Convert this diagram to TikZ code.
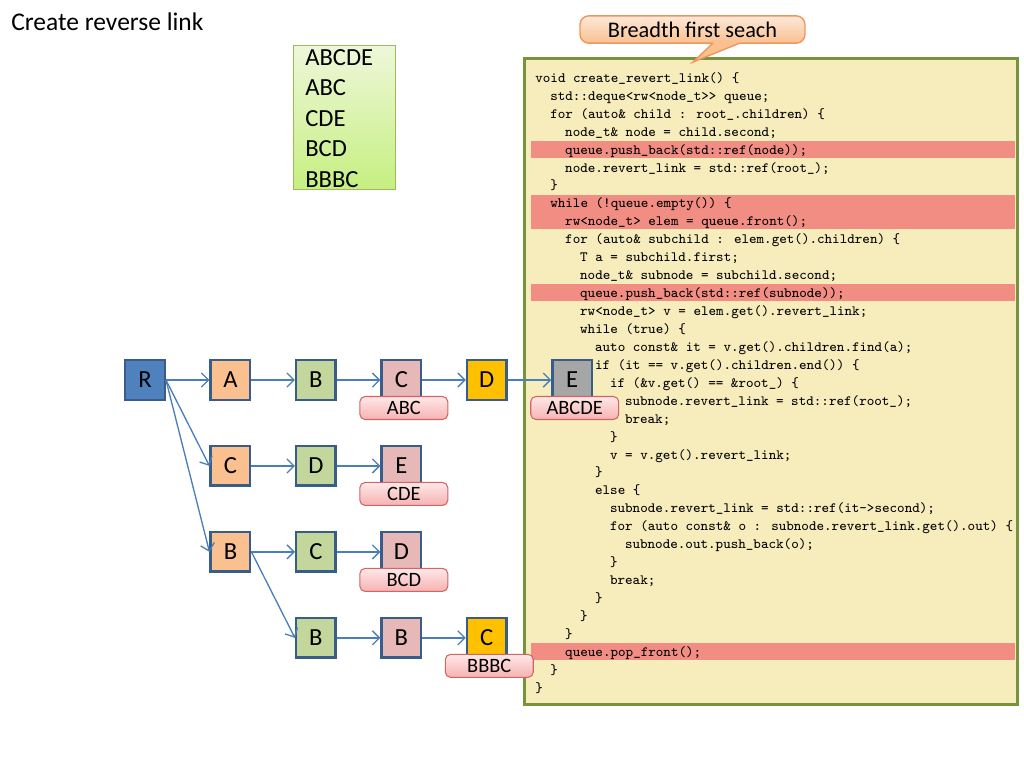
\documentclass[tikz,border=0pt]{standalone}
\usepackage{fontspec}
\setmainfont{Carlito}
\usepackage{tikz}
\usetikzlibrary{positioning,arrows.meta}
\definecolor{nodeblue}{RGB}{79,129,189}
\definecolor{nodeborder}{RGB}{56,93,138}
\definecolor{nodeorange}{RGB}{250,192,144}
\definecolor{nodegreen}{RGB}{195,214,155}
\definecolor{nodepink}{RGB}{230,185,184}
\definecolor{nodegold}{RGB}{255,192,0}
\definecolor{nodegray}{RGB}{166,166,166}
\definecolor{linkblue}{RGB}{74,126,187}
\definecolor{codefill}{RGB}{246,236,188}
\definecolor{codeborder}{RGB}{119,147,60}
\definecolor{hlred}{RGB}{242,141,131}
\definecolor{tagtop}{RGB}{255,232,232}
\definecolor{tagbottom}{RGB}{246,178,178}
\definecolor{tagborder}{RGB}{210,100,100}
\definecolor{listtop}{RGB}{238,247,218}
\definecolor{listbottom}{RGB}{198,239,128}
\definecolor{listborder}{RGB}{155,187,89}
\definecolor{callouttop}{RGB}{253,233,217}
\definecolor{calloutbottom}{RGB}{250,192,144}
\definecolor{calloutborder}{RGB}{240,150,90}
\newcommand{\codeind}[1]{\hspace*{#1\dimexpr 0.525em\relax}}

\begin{document}
\begin{tikzpicture}[x=0.02cm,y=-0.02cm,
  cell/.style={draw=nodeborder, line width=1.4pt, minimum size=0.79cm, inner sep=0pt, font=\fontsize{14}{16}\selectfont},
  rootbox/.style={cell, fill=nodeblue},
  orangebox/.style={cell, fill=nodeorange},
  greenbox/.style={cell, fill=nodegreen},
  pinkbox/.style={cell, fill=nodepink},
  goldbox/.style={cell, fill=nodegold},
  graybox/.style={cell, fill=nodegray},
  link/.style={draw=linkblue, line width=0.75pt, -{Straight Barb[length=4pt,width=8pt]}},
  tag/.style={draw=tagborder, line width=0.6pt, rounded corners=3pt, top color=tagtop, bottom color=tagbottom, minimum width=1.76cm, minimum height=0.46cm, inner sep=0pt, font=\fontsize{11.6}{13}\selectfont, xshift=0.05cm},
  code/.style={align=left, inner sep=0pt, font=\ttfamily\fontsize{8.1}{10.21}\selectfont},
  node distance=0.88cm and 0.87cm]
\useasboundingbox (0,0) rectangle (1024,768);

% Title and word list
\node[anchor=base west, inner sep=0pt, font=\fontsize{14.5}{16}\selectfont] (title) at (11,30) {Create reverse link};
\node[draw=listborder, line width=0.8pt, top color=listtop, bottom color=listbottom, minimum width=2.04cm, minimum height=2.88cm] (list) at (344.5,117.5) {};
\node[anchor=north west, align=left, inner sep=0pt, font=\fontsize{14}{17.35}\selectfont] (words) at (305,43.6) {\strut ABCDE\\ABC\\CDE\\BCD\\BBBC};

% Code panel
\node[draw=codeborder, line width=1.4pt, fill=codefill, minimum width=9.86cm, minimum height=12.92cm] (panel) at (771,381.5) {};
\fill[hlred] (531,140.7) rectangle (1015,157.7);
\fill[hlred] (531,194.5) rectangle (1015,229.4);
\fill[hlred] (531,284.2) rectangle (1015,301.2);
\fill[hlred] (531,643.0) rectangle (1015,660.0);
\node[code, anchor=north west] (src) at (535,69.4) {\strut void create\_revert\_link() \{\\
\codeind{2}std::deque<rw<node\_t>{}> queue;\\
\codeind{2}for (auto\& child : root\_.children) \{\\
\codeind{4}node\_t\& node = child.second;\\
\codeind{4}queue.push\_back(std::ref(node));\\
\codeind{4}node.revert\_link = std::ref(root\_);\\
\codeind{2}\}\\
\codeind{2}while (!queue.empty()) \{\\
\codeind{4}rw<node\_t> elem = queue.front();\\
\codeind{4}for (auto\& subchild : elem.get().children) \{\\
\codeind{6}T a = subchild.first;\\
\codeind{6}node\_t\& subnode = subchild.second;\\
\codeind{6}queue.push\_back(std::ref(subnode));\\
\codeind{6}rw<node\_t> v = elem.get().revert\_link;\\
\codeind{6}while (true) \{\\
\codeind{8}auto const\& it = v.get().children.find(a);\\
\codeind{8}if (it == v.get().children.end()) \{\\
\codeind{10}if (\&v.get() == \&root\_) \{\\
\codeind{12}subnode.revert\_link = std::ref(root\_);\\
\codeind{12}break;\\
\codeind{10}\}\\
\codeind{10}v = v.get().revert\_link;\\
\codeind{8}\}\\
\codeind{8}else \{\\
\codeind{10}subnode.revert\_link = std::ref(it->second);\\
\codeind{10}for (auto const\& o : subnode.revert\_link.get().out) \{\\
\codeind{12}subnode.out.push\_back(o);\\
\codeind{10}\}\\
\codeind{10}break;\\
\codeind{8}\}\\
\codeind{6}\}\\
\codeind{4}\}\\
\codeind{4}queue.pop\_front();\\
\codeind{2}\}\\
\}};

% Callout
\node[draw=calloutborder, line width=0.8pt, rounded corners=5pt, top color=callouttop, bottom color=calloutbottom, minimum width=4.5cm, minimum height=0.52cm, font=\fontsize{12.7}{14}\selectfont] (bfs) at (692.5,29.5) {Breadth first seach};
\fill[calloutbottom] (711,40) -- (742,40) -- (740,43.5) -- (693,62) -- (713,43.5) -- cycle;
\draw[calloutborder, line width=0.8pt] (713,43) -- (693,62) -- (740,43);

% Trie
\node[rootbox] (R) at (145,380) {R};
\node[orangebox, right=of R] (A) {A};
\node[greenbox, right=of A] (AB) {B};
\node[pinkbox, right=of AB] (ABC) {C};
\node[goldbox, right=of ABC] (ABCD) {D};
\node[graybox, right=of ABCD] (ABCDE) {E};
\node[orangebox, below=of A] (C) {C};
\node[greenbox, right=of C] (CD) {D};
\node[pinkbox, right=of CD] (CDE) {E};
\node[orangebox, below=of C] (B) {B};
\node[greenbox, right=of B] (BC) {C};
\node[pinkbox, right=of BC] (BCD) {D};
\node[greenbox, below=of BC] (BB) {B};
\node[pinkbox, right=of BB] (BBB) {B};
\node[goldbox, right=of BBB] (BBBC) {C};

\draw[link] (R) -- (A);
\draw[link] (A) -- (AB);
\draw[link] (AB) -- (ABC);
\draw[link] (ABC) -- (ABCD);
\draw[link] (ABCD) -- (ABCDE);
\draw[link] (R.east) -- (C.west);
\draw[link] (C) -- (CD);
\draw[link] (CD) -- (CDE);
\draw[link] (R.east) -- (B.west);
\draw[link] (B) -- (BC);
\draw[link] (BC) -- (BCD);
\draw[link] (B.east) -- (BB.west);
\draw[link] (BB) -- (BBB);
\draw[link] (BBB) -- (BBBC);

% Matched words
\node[tag, below=-0.1cm of ABC] (tABC) {ABC};
\node[tag, below=-0.1cm of ABCDE] (tABCDE) {ABCDE};
\node[tag, below=-0.1cm of CDE] (tCDE) {CDE};
\node[tag, below=-0.1cm of BCD] (tBCD) {BCD};
\node[tag, below=-0.1cm of BBBC] (tBBBC) {BBBC};
\end{tikzpicture}
\end{document}
